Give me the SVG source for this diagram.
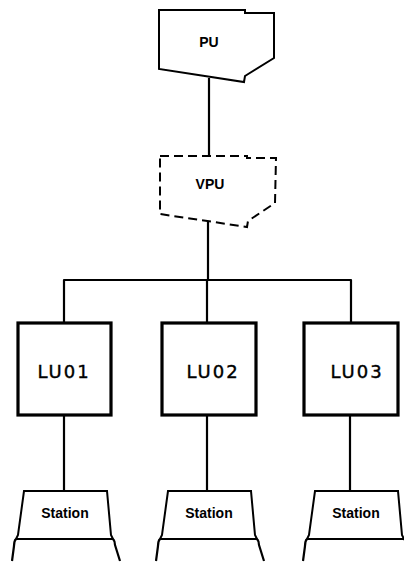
<svg xmlns="http://www.w3.org/2000/svg" width="404" height="563" viewBox="0 0 404 563">
<style>
.ln{fill:none;stroke:#000;stroke-width:2.2;stroke-linejoin:round}
.box{fill:#fff;stroke:#000;stroke-width:3.2}
.shape{fill:#fff;stroke:#000;stroke-width:2}
.dash{fill:#fff;stroke:#000;stroke-width:2;stroke-dasharray:9,5}
.b{font-family:"Liberation Sans",Arial,sans-serif;font-weight:bold;text-anchor:middle;font-size:14px}
.lu{font-family:"DejaVu Sans","Liberation Sans",sans-serif;font-size:18px;text-anchor:middle;letter-spacing:2px;stroke:#000;stroke-width:0.4}
</style>
<defs>
<g id="station">
<path class="shape" d="M-41,491 L42,491 L46,535 L48,539 L-49,539 L-47,535 Z"/>
<path class="ln" d="M-49,539 C-51,541 -51,543 -51,546 L-53,561 M48,539 C50,541 50,543 50,545 L55,561"/>
</g>
</defs>
<g id="connectors">
<path class="ln" d="M209,78 L209,157"/>
<path class="ln" d="M208,222 L208,280"/>
<path class="ln" d="M64,323 L64,280 L351,280 L351,323"/>
<path class="ln" d="M207,280 L207,323"/>
<path class="ln" d="M64,415 L64,491"/>
<path class="ln" d="M207,415 L207,491"/>
<path class="ln" d="M350,415 L350,491"/>
</g>
<g id="pu">
<path class="shape" d="M159,10 L245,10 L245,13 L274,13 L274,58 L245,76 L244,82 L159,69 Z"/>
<text class="b" x="209" y="47">PU</text>
</g>
<g id="vpu">
<path class="dash" d="M160,156 L247,156 L247,158 L276,158 L275,203 L248,221 L247,227 L160,214 Z"/>
<text class="b" x="210" y="189">VPU</text>
</g>
<g id="lu01">
<rect class="box" x="18" y="323" width="93" height="92"/>
<text class="lu" x="64" y="378">LU01</text>
</g>
<g id="lu02">
<rect class="box" x="162" y="323" width="94" height="92"/>
<text class="lu" x="213" y="378">LU02</text>
</g>
<g id="lu03">
<rect class="box" x="304" y="323" width="94" height="92"/>
<text class="lu" x="357" y="378">LU03</text>
</g>
<g id="station1">
<use href="#station" x="65"/>
<text class="b" x="65" y="518">Station</text>
</g>
<g id="station2">
<use href="#station" x="209"/>
<text class="b" x="209" y="518">Station</text>
</g>
<g id="station3">
<use href="#station" x="356"/>
<text class="b" x="356" y="518">Station</text>
</g>
</svg>
